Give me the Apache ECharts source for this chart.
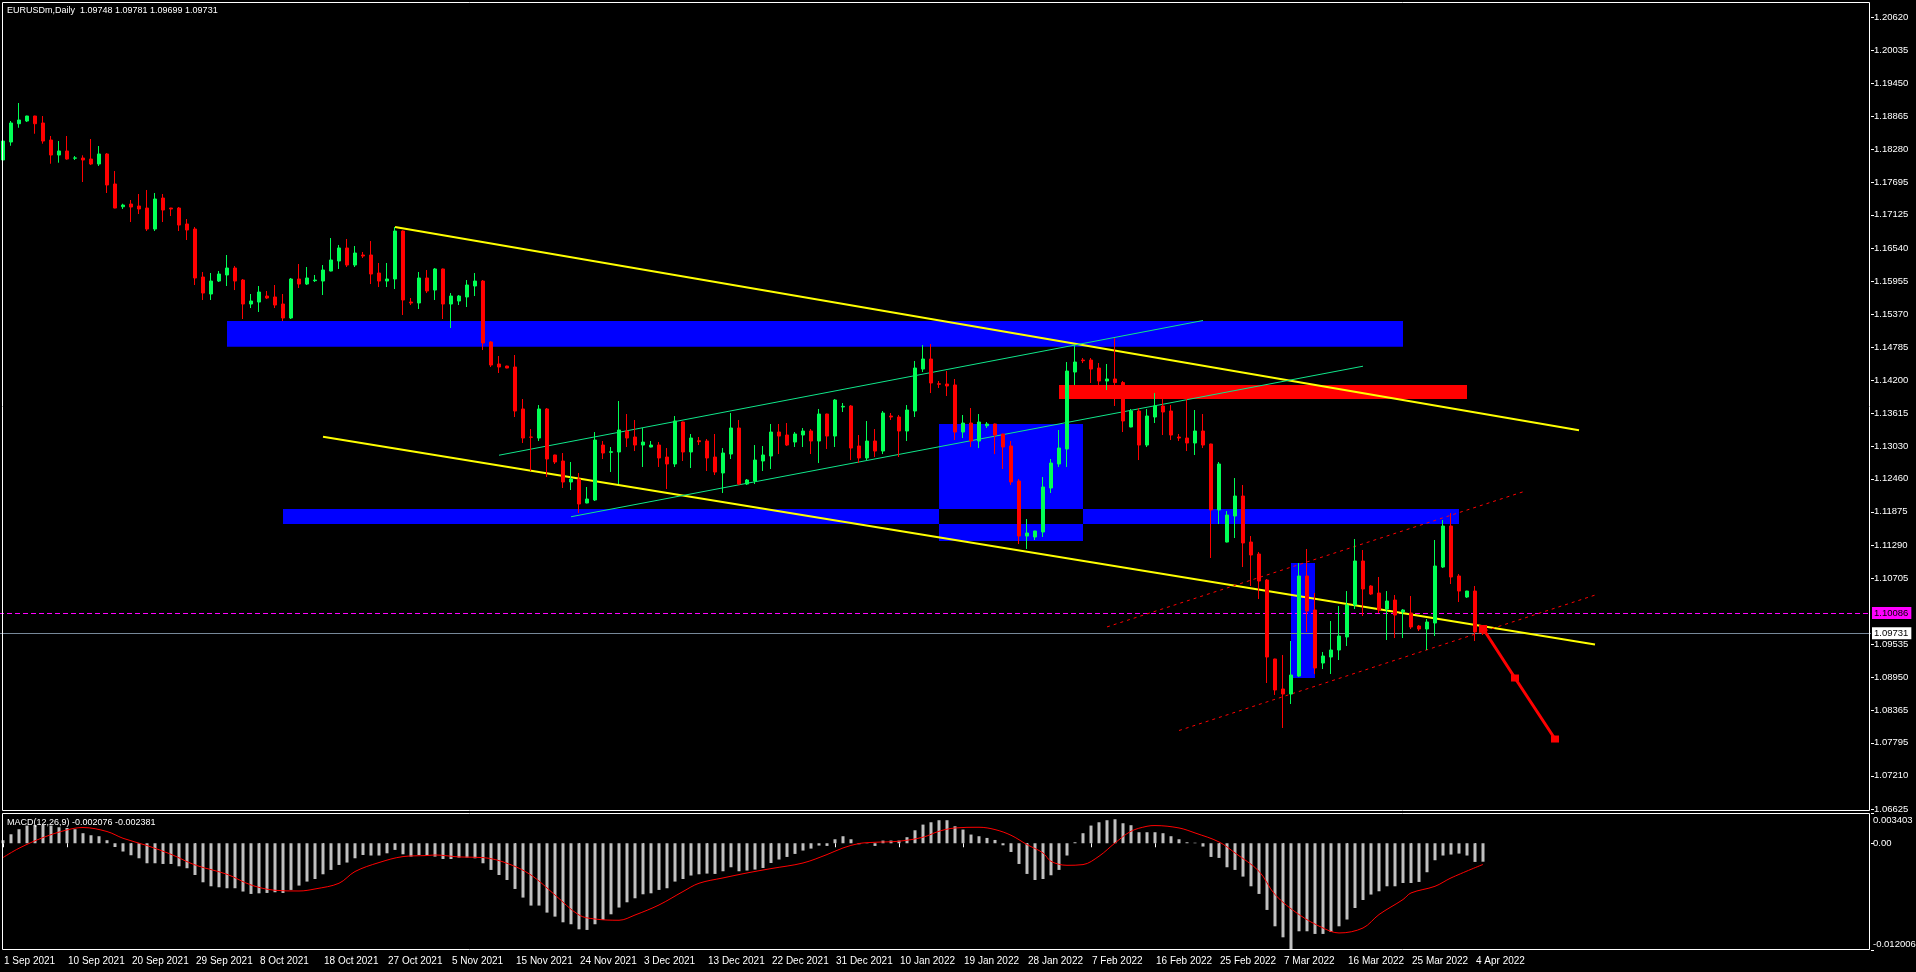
<!DOCTYPE html>
<html><head><meta charset="utf-8">
<script src="https://cdn.jsdelivr.net/npm/echarts@6/dist/echarts.min.js"></script>
<style>html,body{margin:0;padding:0;background:#000;overflow:hidden}#c{width:1916px;height:972px}</style>
</head><body><div id="c"></div>
<script>
// ---------- texts ----------
const headerText = 'EURUSDm,Daily  1.09748 1.09781 1.09699 1.09731';
const macdTitle = 'MACD(12,26,9) -0.002076 -0.002381';
// date tick labels, one every 8 bars starting at bar 0
const tickLabels = ['1 Sep 2021','10 Sep 2021','20 Sep 2021','29 Sep 2021','8 Oct 2021','18 Oct 2021','27 Oct 2021','5 Nov 2021','15 Nov 2021','24 Nov 2021','3 Dec 2021','13 Dec 2021','22 Dec 2021','31 Dec 2021','10 Jan 2022','19 Jan 2022','28 Jan 2022','7 Feb 2022','16 Feb 2022','25 Feb 2022','7 Mar 2022','16 Mar 2022','25 Mar 2022','4 Apr 2022'];
const priceTicks = [1.20620,1.20035,1.19450,1.18865,1.18280,1.17695,1.17125,1.16540,1.15955,1.15370,1.14785,1.14200,1.13615,1.13030,1.12460,1.11875,1.11290,1.10705,1.09535,1.08950,1.08365,1.07795,1.07210,1.06625];
const macdTicks = [0.003403, 0, -0.012006];

// ---------- OHLC (daily bars, Sun-Fri) ----------
const open = [1.18093,1.18411,1.18734,1.18782,1.18870,1.18747,1.18446,1.18181,1.18252,1.18125,
1.18128,1.18110,1.18022,1.18199,1.17669,1.17267,1.17315,1.17280,1.17244,1.16873,
1.17421,1.17244,1.17244,1.16962,1.16873,1.16025,1.15725,1.15954,1.16061,1.16184,
1.15972,1.15548,1.15583,1.15689,1.15672,1.15548,1.15301,1.15990,1.15901,1.15960,
1.15954,1.16131,1.16308,1.16538,1.16237,1.16414,1.16414,1.16096,1.15954,1.15990,
1.16838,1.15583,1.15566,1.16008,1.15795,1.16167,1.15548,1.15601,1.15672,1.15866,
1.15954,1.14877,1.14488,1.14452,1.14435,1.13693,1.13198,1.13180,1.13693,1.12880,
1.12774,1.12403,1.12456,1.12032,1.12085,1.13056,1.12927,1.12933,1.13304,1.13198,
1.13056,1.13021,1.13056,1.12844,1.12721,1.13463,1.12933,1.13132,1.13127,1.12844,
1.12562,1.12897,1.13357,1.12367,1.12420,1.12774,1.12862,1.13286,1.13233,1.13109,
1.13233,1.13304,1.13127,1.13604,1.13215,1.13728,1.13746,1.13039,1.12827,1.13127,
1.12950,1.13569,1.13551,1.13304,1.13657,1.14399,1.14576,1.14140,1.14134,1.14117,
1.13286,1.13445,1.13127,1.13397,1.13428,1.13251,1.13039,1.12420,1.11448,1.11431,
1.11519,1.12297,1.12721,1.12986,1.14346,1.14558,1.14558,1.14417,1.14187,1.14223,
1.14160,1.13375,1.13657,1.13056,1.13551,1.13746,1.13657,1.13198,1.13180,1.13092,
1.13304,1.13074,1.11908,1.11342,1.11802,1.12155,1.11342,1.11130,1.10671,1.09275,
1.08745,1.08656,1.08974,1.10742,1.10141,1.09204,1.09310,1.09434,1.09664,1.10229,
1.11007,1.10565,1.10441,1.10158,1.10317,1.10105,1.10088,1.09858,1.09805,1.09911,
1.10900,1.11625,1.10742,1.10370,1.10476,1.09748];
const high = [1.18593,1.18782,1.19100,1.18875,1.18875,1.18870,1.18517,1.18428,1.18517,1.18163,
1.18176,1.18464,1.18340,1.18216,1.17898,1.17320,1.17386,1.17492,1.17563,1.17510,
1.17492,1.17248,1.17262,1.17050,1.16909,1.16114,1.16096,1.16131,1.16414,1.16220,
1.15990,1.15725,1.15866,1.15778,1.15884,1.15725,1.16008,1.16255,1.16202,1.16061,
1.16237,1.16714,1.16591,1.16697,1.16573,1.16467,1.16661,1.16273,1.16273,1.16909,
1.16850,1.15654,1.16114,1.16149,1.16184,1.16175,1.15742,1.15707,1.15972,1.16096,
1.15972,1.14894,1.14629,1.14458,1.14647,1.13869,1.13339,1.13763,1.13710,1.12885,
1.12915,1.12756,1.12562,1.12314,1.13286,1.13127,1.13021,1.13834,1.13604,1.13498,
1.13357,1.13127,1.13109,1.13003,1.13569,1.13470,1.13251,1.13198,1.13162,1.13251,
1.13003,1.13622,1.13498,1.12456,1.13056,1.13039,1.13428,1.13428,1.13445,1.13286,
1.13357,1.13339,1.13693,1.13610,1.13869,1.13799,1.13763,1.13233,1.13481,1.13339,
1.13657,1.13622,1.13587,1.13763,1.14541,1.14824,1.14841,1.14187,1.14364,1.14223,
1.13587,1.13710,1.13604,1.13463,1.13435,1.13255,1.13127,1.12456,1.11749,1.11540,
1.12491,1.12809,1.13322,1.14523,1.14824,1.14594,1.14594,1.14505,1.14488,1.14947,
1.14187,1.13693,1.13710,1.13693,1.13975,1.13869,1.13763,1.13251,1.13869,1.13675,
1.13604,1.13080,1.12756,1.11890,1.12473,1.12350,1.11448,1.11166,1.10688,1.09280,
1.09346,1.09593,1.10971,1.11219,1.10441,1.09399,1.09946,1.10211,1.10476,1.11395,
1.11201,1.10580,1.10724,1.10476,1.10406,1.10158,1.10388,1.09876,1.09982,1.11378,
1.11731,1.11855,1.10777,1.10480,1.10565,1.09781];
const low = [1.17934,1.18345,1.18663,1.18764,1.18557,1.18381,1.18027,1.18045,1.18098,1.18093,
1.17704,1.18004,1.17987,1.17510,1.17240,1.17227,1.16997,1.17138,1.16838,1.16838,
1.16997,1.17103,1.16838,1.16679,1.15884,1.15619,1.15619,1.15937,1.15866,1.15795,
1.15283,1.15477,1.15407,1.15636,1.15477,1.15248,1.15283,1.15831,1.15884,1.15937,
1.15707,1.16125,1.16167,1.16202,1.16202,1.16361,1.15901,1.15848,1.15848,1.15813,
1.15354,1.15530,1.15460,1.15742,1.15619,1.15283,1.15124,1.15530,1.15495,1.15689,
1.14735,1.14435,1.14329,1.14412,1.13551,1.13092,1.12597,1.13127,1.12491,1.12721,
1.12297,1.12261,1.11855,1.12025,1.12067,1.12809,1.12579,1.12367,1.13021,1.12950,
1.12668,1.13015,1.12668,1.12279,1.12668,1.12774,1.12650,1.13056,1.12597,1.12526,
1.12208,1.12809,1.12350,1.12350,1.12367,1.12597,1.12632,1.12897,1.13039,1.13021,
1.13021,1.12897,1.12738,1.12986,1.13021,1.13640,1.12791,1.12738,1.12791,1.12844,
1.12897,1.13498,1.12844,1.13127,1.13551,1.14346,1.13975,1.14064,1.13922,1.13145,
1.13180,1.13021,1.13003,1.13357,1.12897,1.12632,1.12350,1.11307,1.11219,1.11378,
1.11431,1.12208,1.12668,1.12668,1.14117,1.14505,1.14152,1.14028,1.14028,1.13746,
1.13286,1.13370,1.12791,1.13021,1.13445,1.13233,1.13145,1.13127,1.12950,1.12880,
1.13003,1.11060,1.11660,1.11335,1.11413,1.10900,1.10565,1.10335,1.08851,1.08639,
1.08056,1.08480,1.08957,1.09752,1.09010,1.09098,1.09010,1.09257,1.09505,1.10158,
1.10035,1.10406,1.10088,1.09611,1.09646,1.09646,1.09805,1.09770,1.09434,1.09681,
1.10883,1.10600,1.10282,1.10353,1.09593,1.09699];
const close = [1.18428,1.18747,1.18800,1.18870,1.18734,1.18428,1.18181,1.18252,1.18110,1.18130,
1.18093,1.18022,1.18199,1.17651,1.17244,1.17297,1.17262,1.17227,1.16873,1.17404,
1.17209,1.17227,1.16944,1.16856,1.16008,1.15742,1.15954,1.16078,1.16184,1.15954,
1.15548,1.15601,1.15760,1.15654,1.15530,1.15301,1.15990,1.15901,1.16008,1.15972,
1.16149,1.16326,1.16538,1.16237,1.16449,1.16396,1.16078,1.15954,1.15990,1.16838,
1.15619,1.15566,1.16008,1.15778,1.16167,1.15548,1.15689,1.15689,1.15884,1.15954,
1.14859,1.14470,1.14435,1.14417,1.13657,1.13180,1.13193,1.13693,1.12809,1.12756,
1.12403,1.12456,1.12014,1.12102,1.13145,1.12915,1.12938,1.13322,1.13180,1.13056,
1.13109,1.13056,1.12827,1.12721,1.13481,1.12933,1.13180,1.13115,1.12827,1.12579,
1.12915,1.13357,1.12367,1.12438,1.12791,1.12880,1.13286,1.13215,1.13056,1.13251,
1.13304,1.13127,1.13604,1.13215,1.13852,1.13740,1.13003,1.12827,1.13127,1.12950,
1.13622,1.13551,1.13304,1.13675,1.14417,1.14576,1.14152,1.14129,1.14099,1.13286,
1.13445,1.13127,1.13463,1.13428,1.13233,1.13021,1.12403,1.11448,1.11501,1.11537,
1.12314,1.12738,1.13003,1.14364,1.14523,1.14546,1.14399,1.14187,1.14223,1.14160,
1.13481,1.13657,1.13056,1.13569,1.13746,1.13640,1.13233,1.13180,1.13092,1.13304,
1.13056,1.11908,1.12721,1.11819,1.12155,1.11325,1.11113,1.10653,1.09310,1.08727,
1.08656,1.08992,1.10742,1.10123,1.09116,1.09328,1.09434,1.09681,1.10229,1.11007,
1.10512,1.10423,1.10141,1.10300,1.10052,1.10141,1.09840,1.09805,1.09929,1.10918,
1.11625,1.10724,1.10476,1.10476,1.09752,1.09731];

// ---------- MACD(12,26,9) ----------
const macdHist = [0.00034,0.00101,0.00158,0.00199,0.00206,0.00206,0.00199,0.00180,0.00172,0.00158,
0.00113,0.00090,0.00079,0.00034,-0.00042,-0.00093,-0.00135,-0.00169,-0.00225,-0.00225,
-0.00233,-0.00233,-0.00259,-0.00281,-0.00357,-0.00439,-0.00484,-0.00495,-0.00506,-0.00506,
-0.00543,-0.00570,-0.00563,-0.00559,-0.00551,-0.00559,-0.00525,-0.00476,-0.00431,-0.00402,
-0.00349,-0.00300,-0.00244,-0.00217,-0.00169,-0.00132,-0.00138,-0.00138,-0.00113,-0.00075,
-0.00124,-0.00150,-0.00132,-0.00138,-0.00150,-0.00177,-0.00177,-0.00161,-0.00161,-0.00169,
-0.00225,-0.00300,-0.00357,-0.00413,-0.00514,-0.00611,-0.00701,-0.00701,-0.00780,-0.00825,
-0.00889,-0.00911,-0.00968,-0.00975,-0.00911,-0.00863,-0.00799,-0.00723,-0.00664,-0.00619,
-0.00574,-0.00563,-0.00525,-0.00506,-0.00431,-0.00402,-0.00363,-0.00349,-0.00341,-0.00345,
-0.00315,-0.00270,-0.00315,-0.00307,-0.00296,-0.00278,-0.00222,-0.00183,-0.00154,-0.00120,
-0.00082,-0.00060,-0.00026,-0.00030,0.00045,0.00079,0.00045,-0.00011,0.00003,-0.00030,
0.00030,0.00030,0.00030,0.00068,0.00146,0.00210,0.00236,0.00259,0.00259,0.00191,
0.00154,0.00098,0.00079,0.00060,0.00037,-0.00023,-0.00098,-0.00233,-0.00345,-0.00413,
-0.00402,-0.00360,-0.00300,-0.00138,0.00011,0.00113,0.00199,0.00236,0.00259,0.00270,
0.00225,0.00203,0.00124,0.00124,0.00124,0.00113,0.00079,0.00045,0.00011,0.00006,
-0.00037,-0.00154,-0.00165,-0.00270,-0.00300,-0.00375,-0.00484,-0.00570,-0.00750,-0.00934,
-0.01058,-0.012006,-0.00990,-0.00990,-0.01020,-0.01020,-0.00998,-0.00934,-0.00858,-0.00728,
-0.00638,-0.00577,-0.00540,-0.00484,-0.00484,-0.00447,-0.00447,-0.00435,-0.00326,-0.00191,
-0.00138,-0.00127,-0.00116,-0.00138,-0.00210,-0.002076];
// signal line readings: [bar index, value]
const macdSignal = [[0,-0.00161],[2,-0.00056],[5,0.00064],[8,0.00150],[10,0.00177],[13,0.00132],[15,0.00056],[18,-0.00026],[21,-0.00124],[24,-0.00244],[28,-0.00349],[31,-0.00469],[34,-0.00529],[37,-0.00537],[39,-0.00514],[42,-0.00450],[44,-0.00318],[47,-0.00217],[50,-0.00150],[53,-0.00138],[54,-0.00132],[57,-0.00154],[60,-0.00161],[63,-0.00225],[66,-0.00357],[69,-0.00582],[72,-0.00807],[74,-0.00852],[77,-0.00866],[79,-0.00807],[82,-0.00694],[85,-0.00543],[87,-0.00450],[90,-0.00390],[93,-0.00334],[96,-0.00285],[100,-0.00222],[103,-0.00127],[105,-0.00053],[107,-0.00003],[109,0.00011],[112,0.00023],[115,0.00068],[117,0.00135],[119,0.00172],[122,0.00180],[124,0.00154],[126,0.00090],[128,-0.00015],[130,-0.00109],[131,-0.00203],[133,-0.00248],[135,-0.00240],[137,-0.00146],[139,0.00003],[141,0.00135],[143,0.00191],[144,0.00199],[147,0.00172],[149,0.00116],[152,0.00015],[154,-0.00109],[157,-0.00315],[159,-0.00577],[162,-0.00802],[165,-0.00953],[167,-0.01009],[170,-0.00953],[172,-0.00802],[175,-0.00633],[176,-0.00559],[179,-0.00484],[181,-0.00390],[185,-0.002381]];

// ---------- drawn objects (bar index, price) ----------
const blueZones = [[28,1.15248,175,1.14793],[35,1.11926,117,1.11660],[135,1.11926,182,1.11660],[117,1.13428,135,1.11926],[117,1.11660,135,1.11360],[161,1.10971,164,1.08939]];
const redZones = [[132,1.14117,183,1.13869]];
const yellowLines = [[49,1.16909,197,1.13316],[40,1.13203,199,1.09531]];
const greenLines = [[62,1.12876,150,1.15256],[71,1.11789,170,1.14449]];
const redDashLines = [[138,1.09842,190,1.12229],[147,1.08011,199,1.10404]];
const forecastPath = [[185,1.09814],[189,1.08939],[194,1.07861]];
const alertLevel = 1.10086;
const bidLevel = 1.09731;

// ---------- categories: Sun-Fri daily bars incl. empty future slots ----------
const MONTHS = ['Jan','Feb','Mar','Apr','May','Jun','Jul','Aug','Sep','Oct','Nov','Dec'];
const SLOTS = 234;
const categories = [];
(function(){ const d = new Date(Date.UTC(2021,8,1));
  while (categories.length < SLOTS) { if (d.getUTCDay() !== 6) categories.push(d.getUTCDate()+' '+MONTHS[d.getUTCMonth()]+' '+d.getUTCFullYear()); d.setUTCDate(d.getUTCDate()+1); } })();

const FONT = '"Liberation Sans", Arial, sans-serif';
const WHITE = '#ffffff';
const candleData = open.map((o,i)=>[o, close[i], low[i], high[i]]);
const areaPairs = (arr)=>arr.map(r=>[{xAxis:r[0], yAxis:r[1]},{xAxis:r[2], yAxis:r[3]}]);
const linePairs = (arr)=>arr.map(r=>[{coord:[r[0],r[1]]},{coord:[r[2],r[3]]}]);
const lastLabelBar = (tickLabels.length-1)*8;
const showTick = (idx)=> idx % 8 === 0 && idx <= lastLabelBar;
const levelLine = (name, value, color, type, tagBg, z)=>({
  name, type:'line', xAxisIndex:0, yAxisIndex:0, data:[], z, silent:true,
  markLine:{silent:true, precision:5, symbol:['none','none'], lineStyle:{color, width:1, type},
    label:{show:true, position:'end', distance:1, formatter:value.toFixed(5), backgroundColor:tagBg, color:'#000000', fontSize:9.5, fontFamily:FONT, padding:[1,3,1,2]},
    data:[{yAxis:value}]}
});

const chart = echarts.init(document.getElementById('c'), null, {renderer:'canvas', width:1916, height:972});
chart.setOption({
  backgroundColor:'#000000',
  animation:false,
  grid:[
    {left:-1, top:2, width:1872, height:809, containLabel:false, outerBoundsMode:'none'},
    {left:-1, top:813, width:1872, height:137, containLabel:false, outerBoundsMode:'none'}
  ],
  xAxis:[
    {gridIndex:0, type:'category', data:categories, show:false, boundaryGap:true},
    {gridIndex:1, type:'category', data:categories, boundaryGap:true,
     axisLine:{show:false},
     axisTick:{show:true, alignWithLabel:true, interval:(i)=>showTick(i), length:4, lineStyle:{color:WHITE}},
     axisLabel:{show:true, interval:(i)=>showTick(i), hideOverlap:false, color:WHITE, fontSize:10, fontFamily:FONT, align:'left', margin:6, padding:[0,0,0,1],
       formatter:(v,i)=> tickLabels[i/8] || ''},
     splitLine:{show:false}}
  ],
  yAxis:[
    {gridIndex:0, type:'value', position:'right', min:1.06589, max:1.20885, scale:true,
     splitLine:{show:false}, axisLine:{show:false},
     axisTick:{show:true, customValues:priceTicks, length:3, lineStyle:{color:WHITE}},
     axisLabel:{show:true, customValues:priceTicks, hideOverlap:false, color:WHITE, fontSize:9.5, fontFamily:FONT, margin:3, formatter:(v)=>v.toFixed(5)}},
    {gridIndex:1, type:'value', position:'right', min:-0.012006, max:0.003403,
     splitLine:{show:false}, axisLine:{show:false},
     axisTick:{show:true, customValues:macdTicks, length:3, lineStyle:{color:WHITE}},
     axisLabel:{show:true, customValues:macdTicks, hideOverlap:false, color:WHITE, fontSize:9.5, fontFamily:FONT, margin:2,
       formatter:(v)=> v > 0 ? '{t|0.003403}' : (v < 0 ? '{b|-0.012006}' : '0.00'),
       rich:{t:{color:WHITE, fontSize:9.5, fontFamily:FONT, padding:[14,0,0,0]}, b:{color:WHITE, fontSize:9.5, fontFamily:FONT, padding:[0,0,12,0]}}}}
  ],
  series:[
    {name:'zones', type:'line', xAxisIndex:0, yAxisIndex:0, data:[], z:1, silent:true,
     markArea:{silent:true, label:{show:false}, itemStyle:{color:'#0000ff', opacity:1, borderWidth:0},
       data: areaPairs(blueZones).concat(areaPairs(redZones).map(p=>[Object.assign({itemStyle:{color:'#ff0000'}},p[0]), p[1]]))}},
    levelLine('bid', bidLevel, '#778899', 'solid', '#ffffff', 3),
    {name:'EURUSDm', type:'candlestick', xAxisIndex:0, yAxisIndex:0, data:candleData, z:5, barWidth:4, silent:true,
     itemStyle:{color:'#00ff55', color0:'#ff0000', borderColor:'#00ff55', borderColor0:'#ff0000', borderWidth:1}},
    levelLine('alert', alertLevel, '#ff00ff', [5,3], '#ff00ff', 7),
    {name:'yellowLines', type:'line', xAxisIndex:0, yAxisIndex:0, data:[], z:8, silent:true,
     markLine:{silent:true, symbol:['none','none'], label:{show:false}, lineStyle:{color:'#ffff00', width:2, type:'solid'}, data:linePairs(yellowLines)}},
    {name:'greenLines', type:'line', xAxisIndex:0, yAxisIndex:0, data:[], z:8, silent:true,
     markLine:{silent:true, symbol:['none','none'], label:{show:false}, lineStyle:{color:'#10e68a', width:1, type:'solid'}, data:linePairs(greenLines)}},
    {name:'redDash', type:'line', xAxisIndex:0, yAxisIndex:0, data:[], z:8, silent:true,
     markLine:{silent:true, symbol:['none','none'], label:{show:false}, lineStyle:{color:'#ff0000', width:1, type:[3,4]}, data:linePairs(redDashLines)}},
    {name:'forecast', type:'line', xAxisIndex:0, yAxisIndex:0, data:forecastPath, z:9, silent:true,
     symbol:'rect', symbolSize:[8,7], showSymbol:true, showAllSymbol:true, lineStyle:{color:'#ff0000', width:3}, itemStyle:{color:'#ff0000'}},
    {name:'MACD', type:'bar', xAxisIndex:1, yAxisIndex:1, data:macdHist, barWidth:3, silent:true, itemStyle:{color:'#c0c0c0'}},
    {name:'Signal', type:'line', xAxisIndex:1, yAxisIndex:1, data:macdSignal, showSymbol:false, smooth:0.35, silent:true, lineStyle:{color:'#ff0000', width:1}}
  ],
  graphic:[
    {type:'rect', z:100, silent:true, shape:{x:2.5, y:2.5, width:1867, height:808}, style:{fill:null, stroke:WHITE, lineWidth:1}},
    {type:'rect', z:100, silent:true, shape:{x:2.5, y:813.5, width:1867, height:136}, style:{fill:null, stroke:WHITE, lineWidth:1}},
    {type:'text', z:101, silent:true, x:7, y:6, style:{text:headerText, fill:WHITE, font:'9px '+FONT, textVerticalAlign:'top'}},
    {type:'text', z:101, silent:true, x:7, y:818, style:{text:macdTitle, fill:WHITE, font:'9px '+FONT, textVerticalAlign:'top'}}
  ]
});
</script>
</body></html>
